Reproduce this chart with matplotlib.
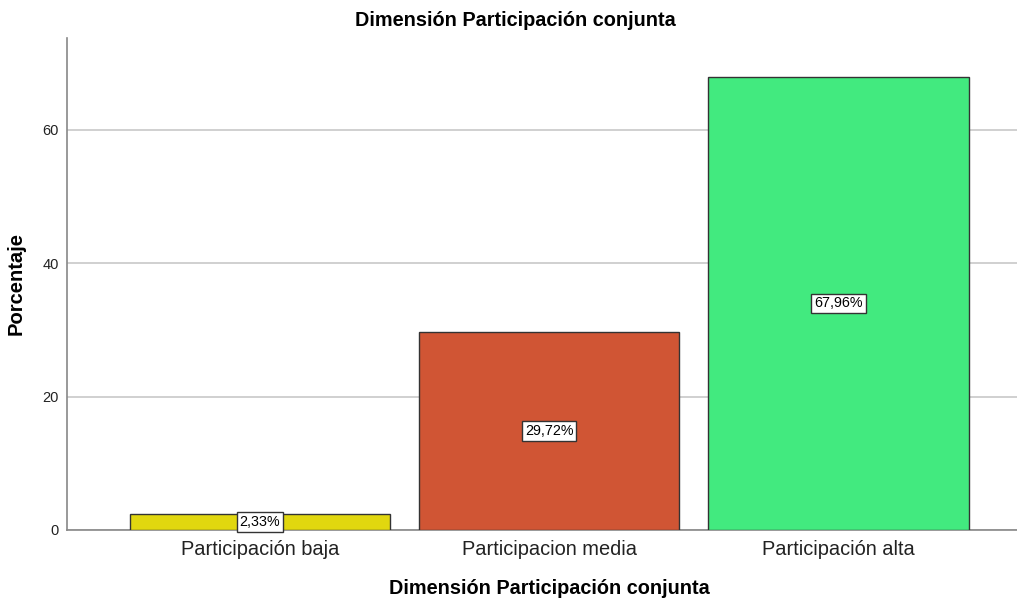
import matplotlib
matplotlib.use('Agg')
import matplotlib.pyplot as plt

categories = ['Participación baja', 'Participacion media', 'Participación alta']
percentages = [2.33, 29.72, 67.96]
labels = ['2,33%', '29,72%', '67,96%']
colors = ['#e1d70f', '#d05534', '#42ea7f']

plt.rcParams['font.family'] = ['Liberation Sans', 'DejaVu Sans']

fig = plt.figure(figsize=(10.17, 6.0), dpi=100)
ax = fig.add_axes([0.0659, 0.1167, 0.9341, 0.82])

x = range(len(categories))
ax.bar(x, percentages, width=0.9, color=colors, edgecolor='#333333', linewidth=1.0, zorder=3)

for i, (val, lab) in enumerate(zip(percentages, labels)):
    ax.text(i, val / 2, lab, ha='center', va='center', fontsize=10.3, zorder=4,
            bbox=dict(boxstyle='square,pad=0.2', facecolor='white', edgecolor='#333333', linewidth=1.0))

ax.set_xlim(-0.667, 2.617)
ax.set_ylim(0, 73.8)
ax.set_yticks([0, 20, 40, 60])
ax.yaxis.grid(True, color='#c8c8c8', linewidth=1.2, zorder=0)
ax.set_axisbelow(True)

ax.set_xticks(list(x))
ax.set_xticklabels(categories, fontsize=14.4, color='#222222')
ax.tick_params(axis='x', length=0, pad=7)
ax.tick_params(axis='y', length=0, labelsize=10.5, pad=6, colors='#222222')

for side in ['top', 'right']:
    ax.spines[side].set_visible(False)
for side in ['left', 'bottom']:
    ax.spines[side].set_color('#888888')
    ax.spines[side].set_linewidth(1.2)

fig.text(515 / 1017, 1 - 21 / 600, 'Dimensión Participación conjunta', ha='center', va='center',
         fontsize=14.3, fontweight='bold')
fig.text(549 / 1017, 1 - 589 / 600, 'Dimensión Participación conjunta', ha='center', va='center',
         fontsize=14.3, fontweight='bold')
ax.set_ylabel('Porcentaje', fontsize=14.5, fontweight='bold', labelpad=12)

fig.savefig('out.png', dpi=100)
